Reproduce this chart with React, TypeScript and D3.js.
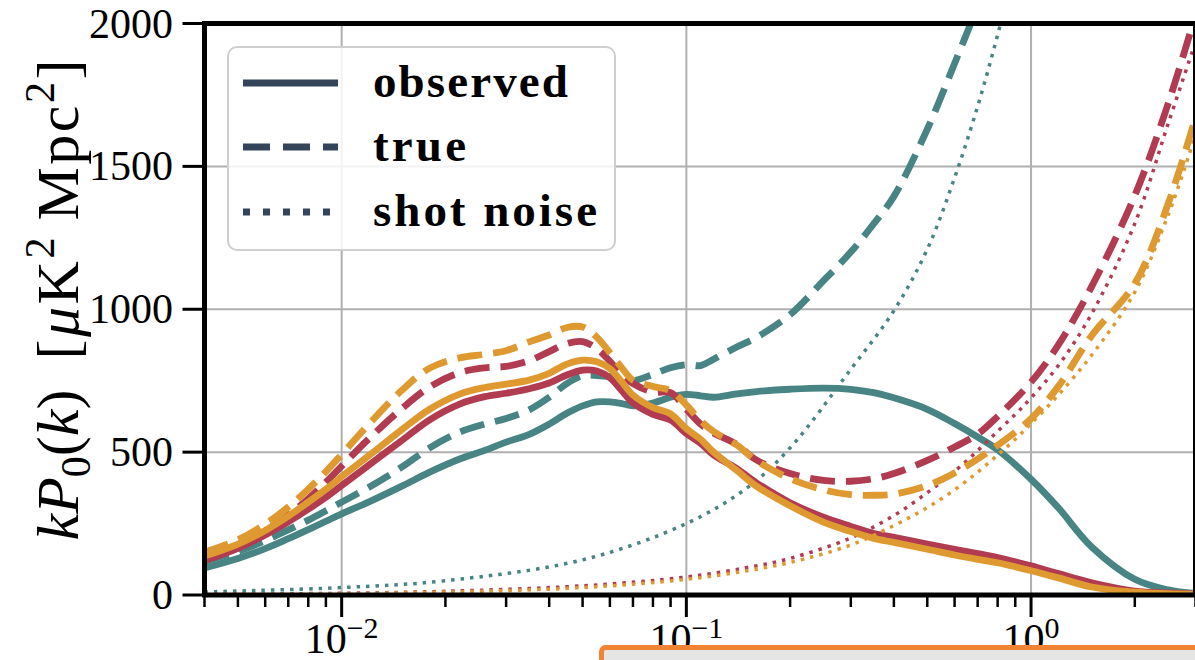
import React from 'react';
import * as d3 from 'd3';

// Wavenumber grid (h/Mpc) for the monopole spectra
const kGrid = [
  0.004, 0.005, 0.006, 0.007, 0.008, 0.009,
  0.01, 0.012, 0.015, 0.018,
  0.022, 0.026, 0.03, 0.035, 0.04, 0.045, 0.05, 0.055, 0.06, 0.065, 0.07, 0.08, 0.09,
  0.1, 0.11, 0.12, 0.14, 0.16, 0.2, 0.25, 0.3, 0.35, 0.4, 0.5, 0.6, 0.7, 0.8,
  1.0, 1.2, 1.5, 2.0, 2.5, 3.0,
];

// k P_0(k) for the three tracers
const tealObserved = [95, 128, 162, 197, 229, 258, 284, 326, 382, 430, 476, 506, 535, 562, 598, 636, 662, 676, 676, 670, 662, 672, 692, 702, 697, 692, 704, 712, 720, 724, 720, 708, 690, 650, 600, 553, 508, 405, 305, 168, 55, 18, 5];
const tealTrue = [118, 152, 190, 228, 262, 295, 325, 377, 449, 515, 570, 598, 618, 648, 692, 740, 767, 768, 764, 754, 750, 772, 795, 806, 803, 825, 868, 902, 981, 1100, 1200, 1300, 1395, 1630, 1860, 2060];
const redObserved = [120, 163, 210, 256, 300, 342, 383, 455, 542, 613, 668, 694, 706, 722, 742, 770, 787, 784, 760, 715, 672, 632, 612, 565, 531, 490, 442, 392, 323, 272, 240, 215, 202, 178, 160, 145, 131, 102, 75, 43, 14, 7, 4];
const redTrue = [132, 175, 224, 279, 337, 395, 451, 547, 654, 728, 778, 795, 800, 820, 852, 880, 887, 862, 818, 770, 740, 710, 708, 650, 598, 567, 527, 472, 425, 401, 398, 407, 425, 471, 518, 563, 625, 745, 875, 1080, 1398, 1720, 2030];
const orangeObserved = [136, 178, 226, 276, 325, 370, 414, 488, 580, 650, 703, 726, 738, 752, 776, 808, 822, 816, 792, 745, 700, 656, 634, 582, 545, 500, 436, 380, 312, 255, 222, 198, 184, 160, 140, 125, 113, 85, 60, 28, 10, 5, 3];
const orangeTrue = [150, 193, 248, 308, 370, 432, 492, 598, 718, 794, 830, 842, 855, 886, 910, 936, 938, 902, 848, 795, 752, 730, 715, 665, 610, 572, 525, 470, 407, 368, 351, 349, 353, 383, 427, 476, 524, 617, 730, 908, 1090, 1370, 1670];

// Shot-noise contribution
const kShot = [0.004, 0.01, 0.02, 0.05, 0.1, 0.15, 0.2, 0.3, 0.4, 0.5, 0.6, 0.7, 0.8, 0.9, 1.0, 1.2, 1.5, 2.0, 2.5, 3.0];
const tealShot = [11, 26, 50, 123, 250, 375, 515, 790, 995, 1210, 1460, 1710, 1960, 2200];
const redShot = [3, 6, 13, 32, 63, 96, 128, 200, 278, 358, 433, 505, 573, 632, 690, 803, 985, 1300, 1650, 1935];
const orangeShot = [2, 5, 10, 26, 55, 85, 114, 175, 243, 306, 368, 430, 490, 545, 600, 700, 840, 1060, 1330, 1610];

const yTicks = [0, 500, 1000, 1500, 2000];
const xMajor = [0.01, 0.1, 1];
const xMajorExp = ['\u22122', '\u22121', '0'];
const legendLabels = ['observed', 'true', 'shot noise'];

const TEAL = '#478483';
const RED = '#b13c52';
const ORANGE = '#de9a31';
const HANDLE = '#34455a';
const FONT = "'Liberation Serif', 'Times New Roman', serif";

const W = 1195;
const H = 660;
const L = 204.5;
const R = 1195.5;
const T = 23.5;
const B = 595;

export default function App() {
  const x = d3.scaleLog().domain([0.004, 3]).range([L, R]);
  const y = d3.scaleLinear().domain([0, 2000]).range([B, T]);

  const path = (ks: number[], vs: number[]) =>
    d3
      .line<number>()
      .x((_, i) => x(ks[i]))
      .y((v) => y(v))
      .curve(d3.curveCatmullRom.alpha(0.5))(vs) || '';

  const series = [
    { color: TEAL, obs: tealObserved, tru: tealTrue, shot: tealShot },
    { color: RED, obs: redObserved, tru: redTrue, shot: redShot },
    { color: ORANGE, obs: orangeObserved, tru: orangeTrue, shot: orangeShot },
  ];

  const allTicks = x.ticks();
  const isMajor = (t: number) => Math.abs(Math.log10(t) - Math.round(Math.log10(t))) < 1e-6;

  const legendY = [83, 147, 212];
  const legendDash = [undefined, '27 13', '7 13'];
  const legendWidth = [195, 93, 224];

  return (
    <svg
      width={W}
      height={H}
      viewBox={`0 0 ${W} ${H}`}
      style={{ position: 'absolute', left: 0, top: 0, background: '#fff' }}
      fontFamily={FONT}
    >
      <defs>
        <clipPath id="plotArea">
          <rect x={L} y={T} width={R - L} height={B - T} />
        </clipPath>
      </defs>

      {/* grid */}
      <g stroke="#b0b0b0" strokeWidth={2}>
        {xMajor.map((t) => (
          <line key={'gx' + t} x1={x(t)} x2={x(t)} y1={T} y2={B} />
        ))}
        {yTicks.map((v) => (
          <line key={'gy' + v} x1={L} x2={R} y1={y(v)} y2={y(v)} />
        ))}
      </g>

      {/* curves */}
      <g clipPath="url(#plotArea)" fill="none">
        {series.map((s, i) => (
          <g key={i} stroke={s.color}>
            <path d={path(kGrid, s.obs)} strokeWidth={6.8} strokeLinejoin="round" />
            <path d={path(kGrid, s.tru)} strokeWidth={6.8} strokeDasharray="25 11" />
            <path d={path(kShot, s.shot)} strokeWidth={3.5} strokeDasharray="3.5 6" />
          </g>
        ))}
      </g>

      {/* spines */}
      <rect x={L} y={T} width={R - L} height={B - T} fill="none" stroke="#000" strokeWidth={5} />

      {/* y ticks */}
      {yTicks.map((v) => (
        <g key={'yt' + v}>
          <line x1={L - 22} x2={L} y1={y(v)} y2={y(v)} stroke="#000" strokeWidth={3} />
          <text x={173} y={y(v) + 14} textAnchor="end" fontSize={42} fill="#000">
            {v}
          </text>
        </g>
      ))}

      {/* x ticks */}
      {allTicks.map((t) => (
        <line
          key={'xt' + t}
          x1={x(t)}
          x2={x(t)}
          y1={B}
          y2={B + (isMajor(t) ? 22 : 12)}
          stroke="#000"
          strokeWidth={isMajor(t) ? 3 : 2.5}
        />
      ))}
      {xMajor.map((t, i) => (
        <text key={'xl' + t} x={x(t)} y={653} textAnchor="middle" fontSize={42} fill="#000">
          <tspan>10</tspan>
          <tspan fontSize={30} dy={-15}>
            {xMajorExp[i]}
          </tspan>
        </text>
      ))}

      {/* y-axis label */}
      <text transform="translate(78,300) rotate(-90)" textAnchor="middle" fontSize={60} fill="#000">
        <tspan fontStyle="italic">kP</tspan>
        <tspan fontSize={42} dy={12}>0</tspan>
        <tspan dy={-12}>(</tspan>
        <tspan fontStyle="italic">k</tspan>
        <tspan>){'\u00a0\u00a0'}</tspan>
        <tspan letterSpacing={2.5}>[</tspan>
        <tspan fontStyle="italic" letterSpacing={2.5}>μ</tspan>
        <tspan letterSpacing={2.5}>K</tspan>
        <tspan fontSize={42} dy={-24} letterSpacing={2.5}>2</tspan>
        <tspan dy={24} letterSpacing={2.5}>{'\u2009'}Mpc</tspan>
        <tspan fontSize={42} dy={-24} letterSpacing={2.5}>2</tspan>
        <tspan dy={24}>]</tspan>
      </text>

      {/* legend */}
      <rect x={228} y={47} width={387} height={203} rx={9} fill="#fff" fillOpacity={0.85} stroke="#cfcfcf" strokeWidth={2} />
      {legendLabels.map((lab, i) => (
        <g key={lab}>
          <line
            x1={243}
            x2={338}
            y1={legendY[i]}
            y2={legendY[i]}
            stroke={HANDLE}
            strokeWidth={7}
            strokeDasharray={legendDash[i]}
          />
          <text
            x={373}
            y={legendY[i] + 14}
            fontSize={47}
            fontWeight="bold"
            fill="#000"
            textLength={legendWidth[i]}
            lengthAdjust="spacing"
          >
            {lab}
          </text>
        </g>
      ))}

      {/* panel below */}
      <rect x={601.5} y={647.5} width={620} height={60} rx={4} fill="#e5e5e5" stroke="#f08334" strokeWidth={5} />
    </svg>
  );
}
